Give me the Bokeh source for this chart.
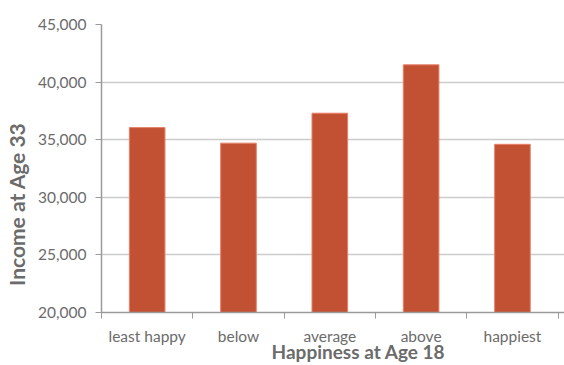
from bokeh.plotting import figure
from bokeh.models import Range1d, FixedTicker, NumeralTickFormatter, ColumnDataSource
from bokeh.embed import file_html
from bokeh.resources import INLINE

categories = ["least happy", "below", "average", "above", "happiest"]
income = [36050, 34700, 37300, 41500, 34600]
y_ticks = [20000, 25000, 30000, 35000, 40000, 45000]
x_title = "Happiness at Age 18"
y_title = "Income at Age 33"

NB = "\u00a0"
xs = [i + 0.5 for i in range(len(categories))]
src = ColumnDataSource(dict(x=xs, top=income, cat=categories))

p = figure(width=564, height=365, output_backend="svg", toolbar_location=None,
           x_range=Range1d(0, 5.07), y_range=Range1d(20000, 45000),
           min_border_left=101, min_border_top=24, min_border_bottom=53, min_border_right=0)
p.outline_line_color = None
p.background_fill_color = "white"

p.vbar(x="x", top="top", bottom=20000, width=0.39, source=src,
       fill_color="#C25032", line_color="#E8806A", line_width=1)

font = "Lato"
gray = "#6b6b6b"

# x axis
p.xaxis.ticker = FixedTicker(ticks=xs, minor_ticks=[0, 1, 2, 3, 4, 5])
p.xaxis.major_label_overrides = {x: c for x, c in zip(xs, categories)}
p.xaxis.major_tick_out = 0
p.xaxis.major_tick_in = 0
p.xaxis.minor_tick_out = 6
p.xaxis.minor_tick_in = 0
p.xaxis.minor_tick_line_color = "#9a9a9a"
p.xaxis.axis_line_color = "#9a9a9a"
p.xaxis.axis_line_width = 1.5
p.xaxis.major_label_text_font = font
p.xaxis.major_label_text_font_size = "15.5px"
p.xaxis.major_label_text_color = gray
p.xaxis.major_label_standoff = 8
p.xaxis.axis_label = NB * 11 + x_title
p.xaxis.axis_label_text_font = font
p.xaxis.axis_label_text_font_style = "bold"
p.xaxis.axis_label_text_font_size = "19px"
p.xaxis.axis_label_text_color = gray
p.xaxis.axis_label_standoff = -8

# y axis
p.yaxis.ticker = FixedTicker(ticks=y_ticks)
p.yaxis.formatter = NumeralTickFormatter(format="0,0")
p.yaxis.major_tick_out = 6
p.yaxis.major_tick_in = 0
p.yaxis.major_tick_line_color = "#9a9a9a"
p.yaxis.minor_tick_line_color = None
p.yaxis.axis_line_color = "#9a9a9a"
p.yaxis.axis_line_width = 1.5
p.yaxis.major_label_text_font = font
p.yaxis.major_label_text_font_size = "15.5px"
p.yaxis.major_label_text_color = gray
p.yaxis.major_label_standoff = 9
p.yaxis.axis_label = y_title + NB * 14
p.yaxis.axis_label_text_font = font
p.yaxis.axis_label_text_font_style = "bold"
p.yaxis.axis_label_text_font_size = "21px"
p.yaxis.axis_label_text_color = gray
p.yaxis.axis_label_standoff = 6

p.xgrid.grid_line_color = None
p.ygrid.grid_line_color = "#cccccc"
p.ygrid.grid_line_width = 1.5
p.ygrid.ticker = FixedTicker(ticks=y_ticks)

open("out.html", "w").write(file_html(p, INLINE))
